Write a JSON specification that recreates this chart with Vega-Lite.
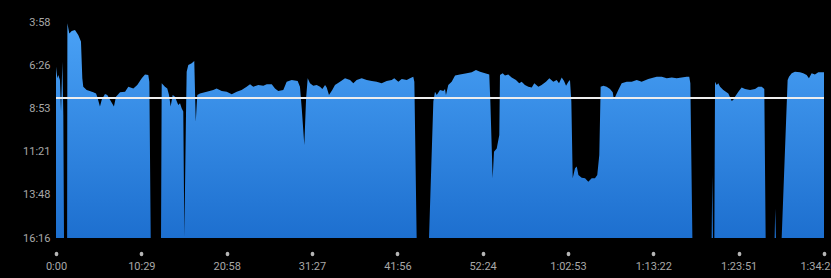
{
  "$schema": "https://vega.github.io/schema/vega-lite/v6.json",
  "width": 768,
  "height": 216,
  "autosize": {"type": "none"},
  "padding": {"left": 56, "top": 22, "right": 7, "bottom": 40},
  "background": "#000000",
  "config": {"view": {"stroke": null}, "font": "Roboto"},
  "layer": [
    {
      "data": {"values": [
        {"t":0,"p":391},{"t":10,"p":430},{"t":17,"p":419},{"t":29,"p":436},{"t":37,"p":544},{"t":47,"p":374},{"t":54,"p":556},{"t":59,"p":976},{"t":79,"p":976},{"t":82,"p":976},{"t":84,"p":242},{"t":98,"p":277},{"t":116,"p":269},{"t":140,"p":265},{"t":164,"p":282},{"t":184,"p":305},{"t":194,"p":430},{"t":201,"p":459},{"t":226,"p":470},{"t":275,"p":478},{"t":295,"p":482},{"t":304,"p":493},{"t":324,"p":527},{"t":337,"p":504},{"t":361,"p":484},{"t":378,"p":487},{"t":398,"p":504},{"t":427,"p":527},{"t":442,"p":493},{"t":472,"p":478},{"t":509,"p":476},{"t":533,"p":459},{"t":570,"p":465},{"t":599,"p":453},{"t":632,"p":430},{"t":656,"p":417},{"t":680,"p":419},{"t":688,"p":442},{"t":698,"p":976},{"t":774,"p":976},{"t":779,"p":447},{"t":803,"p":459},{"t":820,"p":465},{"t":833,"p":487},{"t":845,"p":527},{"t":860,"p":487},{"t":877,"p":493},{"t":889,"p":508},{"t":901,"p":522},{"t":914,"p":516},{"t":926,"p":533},{"t":938,"p":544},{"t":946,"p":972},{"t":958,"p":556},{"t":963,"p":408},{"t":975,"p":385},{"t":1000,"p":379},{"t":1019,"p":371},{"t":1030,"p":579},{"t":1041,"p":487},{"t":1061,"p":482},{"t":1111,"p":476},{"t":1159,"p":470},{"t":1184,"p":465},{"t":1221,"p":474},{"t":1258,"p":476},{"t":1295,"p":485},{"t":1332,"p":476},{"t":1368,"p":470},{"t":1405,"p":459},{"t":1430,"p":451},{"t":1454,"p":459},{"t":1491,"p":453},{"t":1528,"p":456},{"t":1553,"p":451},{"t":1590,"p":451},{"t":1614,"p":465},{"t":1638,"p":474},{"t":1675,"p":470},{"t":1700,"p":442},{"t":1737,"p":436},{"t":1781,"p":440},{"t":1798,"p":459},{"t":1811,"p":533},{"t":1830,"p":658},{"t":1843,"p":499},{"t":1855,"p":430},{"t":1872,"p":447},{"t":1896,"p":456},{"t":1921,"p":453},{"t":1946,"p":459},{"t":1963,"p":467},{"t":1983,"p":453},{"t":1995,"p":462},{"t":2012,"p":487},{"t":2036,"p":470},{"t":2056,"p":453},{"t":2093,"p":442},{"t":2130,"p":430},{"t":2167,"p":436},{"t":2191,"p":447},{"t":2216,"p":436},{"t":2253,"p":430},{"t":2290,"p":436},{"t":2327,"p":440},{"t":2363,"p":442},{"t":2400,"p":447},{"t":2437,"p":440},{"t":2474,"p":436},{"t":2493,"p":430},{"t":2523,"p":442},{"t":2548,"p":433},{"t":2585,"p":436},{"t":2609,"p":430},{"t":2633,"p":425},{"t":2641,"p":442},{"t":2658,"p":976},{"t":2749,"p":976},{"t":2781,"p":510},{"t":2793,"p":476},{"t":2806,"p":487},{"t":2830,"p":470},{"t":2855,"p":474},{"t":2867,"p":467},{"t":2874,"p":487},{"t":2891,"p":453},{"t":2916,"p":442},{"t":2941,"p":421},{"t":2977,"p":417},{"t":3027,"p":413},{"t":3064,"p":410},{"t":3095,"p":402},{"t":3125,"p":408},{"t":3162,"p":413},{"t":3193,"p":417},{"t":3201,"p":510},{"t":3218,"p":772},{"t":3228,"p":681},{"t":3248,"p":670},{"t":3267,"p":624},{"t":3272,"p":419},{"t":3292,"p":413},{"t":3309,"p":421},{"t":3333,"p":417},{"t":3358,"p":428},{"t":3390,"p":436},{"t":3414,"p":447},{"t":3432,"p":442},{"t":3456,"p":453},{"t":3481,"p":459},{"t":3506,"p":462},{"t":3525,"p":447},{"t":3555,"p":459},{"t":3579,"p":453},{"t":3611,"p":442},{"t":3636,"p":430},{"t":3665,"p":442},{"t":3690,"p":436},{"t":3707,"p":447},{"t":3727,"p":428},{"t":3744,"p":440},{"t":3759,"p":456},{"t":3776,"p":442},{"t":3788,"p":436},{"t":3798,"p":510},{"t":3808,"p":772},{"t":3825,"p":738},{"t":3838,"p":732},{"t":3850,"p":761},{"t":3874,"p":770},{"t":3899,"p":772},{"t":3923,"p":784},{"t":3948,"p":772},{"t":3972,"p":772},{"t":3989,"p":761},{"t":4004,"p":692},{"t":4014,"p":459},{"t":4034,"p":456},{"t":4058,"p":459},{"t":4083,"p":467},{"t":4103,"p":478},{"t":4112,"p":504},{"t":4127,"p":487},{"t":4144,"p":470},{"t":4169,"p":447},{"t":4206,"p":442},{"t":4243,"p":442},{"t":4280,"p":436},{"t":4316,"p":442},{"t":4365,"p":433},{"t":4427,"p":425},{"t":4464,"p":425},{"t":4501,"p":430},{"t":4538,"p":428},{"t":4574,"p":430},{"t":4611,"p":428},{"t":4648,"p":425},{"t":4667,"p":425},{"t":4675,"p":447},{"t":4690,"p":976},{"t":4832,"p":976},{"t":4837,"p":761},{"t":4842,"p":976},{"t":4852,"p":976},{"t":4857,"p":442},{"t":4869,"p":453},{"t":4881,"p":447},{"t":4894,"p":459},{"t":4918,"p":470},{"t":4955,"p":482},{"t":4980,"p":508},{"t":4992,"p":504},{"t":5004,"p":493},{"t":5029,"p":476},{"t":5053,"p":462},{"t":5078,"p":467},{"t":5115,"p":470},{"t":5152,"p":467},{"t":5176,"p":459},{"t":5201,"p":459},{"t":5220,"p":467},{"t":5230,"p":976},{"t":5296,"p":976},{"t":5301,"p":875},{"t":5306,"p":976},{"t":5348,"p":976},{"t":5392,"p":436},{"t":5402,"p":425},{"t":5422,"p":413},{"t":5446,"p":408},{"t":5483,"p":410},{"t":5507,"p":413},{"t":5532,"p":419},{"t":5549,"p":430},{"t":5569,"p":413},{"t":5593,"p":417},{"t":5618,"p":410},{"t":5660,"p":410}
      ]},
      "mark": {
        "type": "area",
        "clip": true,
        "interpolate": "linear",
        "color": {
          "gradient": "linear",
          "x1": 0, "y1": 0, "x2": 0, "y2": 1,
          "stops": [
            {"offset": 0, "color": "#4aa2f6"},
            {"offset": 1, "color": "#1d6fcf"}
          ]
        }
      },
      "encoding": {
        "x": {
          "field": "t",
          "type": "quantitative",
          "scale": {"domain": [0, 5660], "nice": false, "zero": false},
          "axis": {
            "title": null,
            "values": [0, 629, 1258, 1887, 2516, 3144, 3773, 4402, 5031, 5660],
            "labelExpr": "floor(datum.value/3600) > 0 ? floor(datum.value/3600) + ':' + (floor(datum.value%3600/60) < 10 ? '0' : '') + floor(datum.value%3600/60) + ':' + (floor(datum.value%60) < 10 ? '0' : '') + floor(datum.value%60) : floor(datum.value/60) + ':' + (floor(datum.value%60) < 10 ? '0' : '') + floor(datum.value%60)",
            "grid": false,
            "domain": false,
            "ticks": true,
            "tickSize": 1,
            "tickWidth": 3.5,
            "tickCap": "round",
            "tickColor": "#b5b5b5",
            "offset": 15,
            "labelPadding": 6,
            "labelOffset": {"condition": {"test": "datum.value >= 5600", "value": -6}, "value": 0},
            "labelColor": "#a8a8a8",
            "labelFontSize": 11,
            "labelFont": "Roboto",
            "labelOverlap": false,
            "labelBound": false,
            "labelFlush": false
          }
        },
        "y": {
          "field": "p",
          "type": "quantitative",
          "scale": {"domain": [238, 976], "reverse": true, "nice": false, "zero": false},
          "axis": {
            "title": null,
            "values": [238, 386, 533, 681, 828, 976],
            "labelExpr": "floor(datum.value/60) + ':' + (floor(datum.value%60) < 10 ? '0' : '') + floor(datum.value%60)",
            "grid": false,
            "domain": false,
            "ticks": false,
            "labelPadding": 6,
            "labelColor": "#a8a8a8",
            "labelFontSize": 11,
            "labelFont": "Roboto",
            "labelOverlap": false,
            "labelFlush": false
          }
        },
        "y2": {"datum": 976}
      }
    },
    {
      "data": {"values": [{"avg": 498}]},
      "mark": {"type": "rule", "color": "#eeeeee", "strokeWidth": 2},
      "encoding": {
        "y": {"field": "avg", "type": "quantitative"}
      }
    }
  ]
}
